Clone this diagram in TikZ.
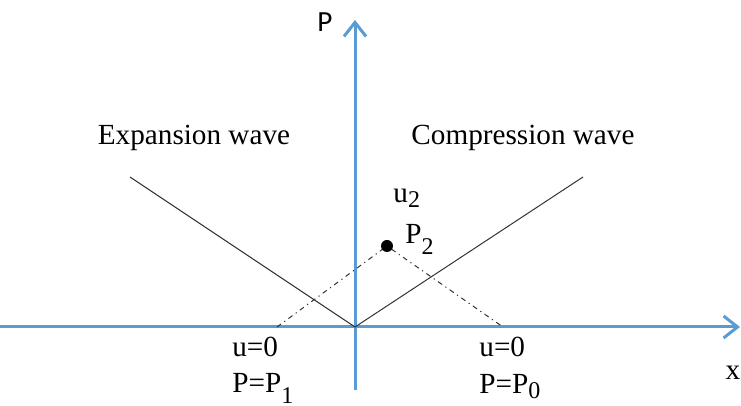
\documentclass[tikz,border=0pt]{standalone}
\usepackage{fontspec}
\setmainfont{Liberation Serif}
\newfontfamily\axisfont{Carlito}
\usetikzlibrary{arrows.meta}
\definecolor{axisblue}{RGB}{91,155,213}
\newcommand{\lowsub}[1]{\raisebox{-0.3ex}{\fontsize{12}{13}\selectfont #1}}
\newcommand{\deepsub}[1]{\raisebox{-0.8ex}{\fontsize{12}{13}\selectfont #1}}

\begin{document}
\begin{tikzpicture}[x=0.5pt,y=-0.5pt,
  axis/.style={axisblue, line width=1.5pt, -{Straight Barb[length=7pt,width=11pt,line width=1.5pt]}},
  wave/.style={black!80, line width=0.5pt},
  guide/.style={black!80, line width=0.5pt, dash pattern=on 2.5pt off 2pt on 0.6pt off 2pt},
  lbl/.style={font=\fontsize{14.6}{17}\selectfont, inner sep=0pt}]
  \useasboundingbox (0,0) rectangle (741,406);
  \coordinate (O) at (355,327);
  \coordinate (Xs) at (0,327);
  \coordinate (Xe) at (740,327);
  \coordinate (Ps) at (355,390);
  \coordinate (Pe) at (355,20);
  \coordinate (E) at (130,177);
  \coordinate (C) at (583,177);
  \coordinate (L) at (277,327);
  \coordinate (R) at (503,327);
  \coordinate (P2) at (387,246);
  \draw[axis] (Xs) -- (Xe);
  \draw[axis] (Ps) -- (Pe);
  \draw[wave] (O) -- (E);
  \draw[wave] (O) -- (C);
  \draw[guide] (L) -- (P2) -- (R);
  \fill (P2) circle (3pt);
  \node[font=\axisfont\fontsize{14.6}{17}\selectfont] (plab) at (325,22) {P};
  \node[lbl] (xlab) at (733,373) {x};
  \node[lbl] (exp) at (194,138) {Expansion wave};
  \node[lbl] (comp) at (523,138) {Compression wave};
  \node[lbl, anchor=base west] (u2) at (393,203) {u\lowsub{2}};
  \node[lbl, anchor=base west] (p2) at (405,244) {P\deepsub{2}};
  \node[lbl, anchor=base west] (ul) at (232,357) {u=0};
  \node[lbl, anchor=base west] (pl) at (232,393) {P=P\deepsub{1}};
  \node[lbl, anchor=base west] (ur) at (479,357) {u=0};
  \node[lbl, anchor=base west] (pr) at (479,394) {P=P\lowsub{0}};
\end{tikzpicture}
\end{document}
